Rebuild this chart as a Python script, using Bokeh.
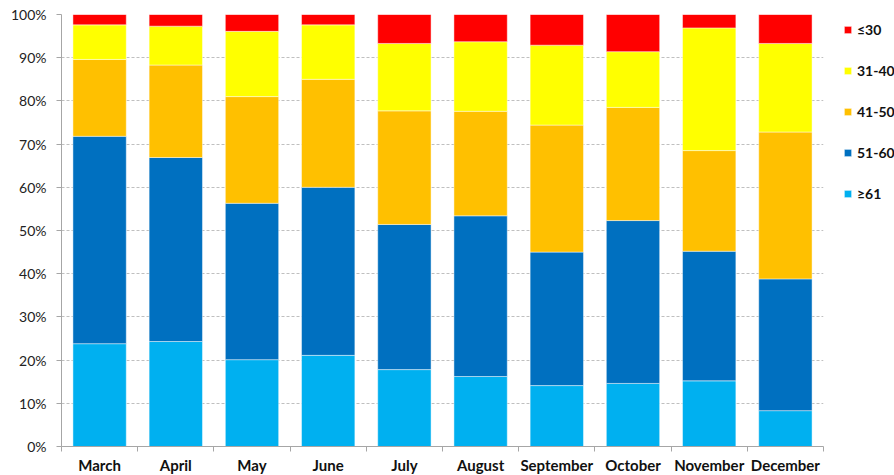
from bokeh.plotting import figure
from bokeh.models import (ColumnDataSource, Range1d, FixedTicker, PrintfTickFormatter,
                          Legend, LegendItem)
from bokeh.embed import file_html
from bokeh.resources import INLINE

months = ["March", "April", "May", "June", "July", "August",
          "September", "October", "November", "December"]
groups = ["≥61", "51-60", "41-50", "31-40", "≤30"]
colors = ["#00B0F0", "#0070C0", "#FFC000", "#FFFF00", "#FF0000"]

# share (%) of each group per month, stacked bottom to top
ge61 = [23.8, 24.3, 20.1, 21.1, 17.8, 16.2, 14.1, 14.6, 15.2, 8.3]
g51_60 = [48.0, 42.6, 36.2, 38.9, 33.6, 37.2, 30.9, 37.7, 30.0, 30.5]
g41_50 = [17.8, 21.4, 24.7, 25.0, 26.3, 24.2, 29.4, 26.2, 23.3, 34.0]
g31_40 = [8.0, 9.0, 15.1, 12.6, 15.6, 16.1, 18.5, 12.9, 28.4, 20.5]
le30 = [2.4, 2.7, 3.9, 2.4, 6.7, 6.3, 7.1, 8.6, 3.1, 6.7]

y_ticks = list(range(0, 101, 10))

keys = ["ge61", "g51_60", "g41_50", "g31_40", "le30"]
xpos = [i + 0.5 for i in range(len(months))]
source = ColumnDataSource(dict(x=xpos, ge61=ge61, g51_60=g51_60, g41_50=g41_50,
                               g31_40=g31_40, le30=le30))

FONT = "Lato"
AXIS_GREY = "#A6A6A6"

p = figure(frame_width=762, frame_height=432, output_backend="svg", toolbar_location=None,
           x_range=Range1d(0, len(months)), y_range=Range1d(0, 100),
           min_border_left=61, min_border_right=71, min_border_top=14,
           min_border_bottom=29)
p.outline_line_color = None
p.background_fill_color = "white"

renderers = p.vbar_stack(keys, x="x", width=0.7, source=source, color=colors,
                         line_color="white", line_alpha=0.45, line_width=1)

# horizontal dashed grid
p.xgrid.visible = False
p.ygrid.ticker = FixedTicker(ticks=y_ticks)
p.ygrid.grid_line_color = "#BFBFBF"
p.ygrid.grid_line_dash = "3 2"
p.ygrid.grid_line_width = 1

# y axis
p.yaxis.ticker = FixedTicker(ticks=y_ticks)
p.yaxis.formatter = PrintfTickFormatter(format="%d%%")
p.yaxis.axis_line_color = AXIS_GREY
p.yaxis.major_tick_line_color = AXIS_GREY
p.yaxis.major_tick_out = 5
p.yaxis.major_tick_in = 0
p.yaxis.minor_tick_line_color = None
p.yaxis.major_label_text_font = FONT
p.yaxis.major_label_text_font_size = "14px"
p.yaxis.major_label_text_color = "#222222"
p.yaxis.major_label_standoff = 10

# x axis: labels at bar centres, ticks at category boundaries
p.xaxis.ticker = FixedTicker(ticks=xpos, minor_ticks=list(range(len(months) + 1)))
p.xaxis.major_label_overrides = {x: m for x, m in zip(xpos, months)}
p.xaxis.axis_line_color = AXIS_GREY
p.xaxis.major_tick_line_color = None
p.xaxis.major_tick_out = 0
p.xaxis.major_tick_in = 0
p.xaxis.minor_tick_line_color = AXIS_GREY
p.xaxis.minor_tick_out = 5
p.xaxis.minor_tick_in = 0
p.xaxis.major_label_text_font = FONT
p.xaxis.major_label_text_font_style = "bold"
p.xaxis.major_label_text_font_size = "15px"
p.xaxis.major_label_text_color = "#111111"
p.xaxis.major_label_standoff = 4

items = [LegendItem(label=g, renderers=[r]) for g, r in zip(groups, renderers)][::-1]
legend = Legend(items=items, location=(20, 244), orientation="vertical",
                glyph_width=9, glyph_height=9, label_standoff=5, spacing=24,
                label_height=14, padding=0, margin=0, border_line_color=None,
                background_fill_alpha=0,
                label_text_font=FONT, label_text_font_style="bold",
                label_text_font_size="14px", label_text_color="#111111")
p.add_layout(legend, "right")

open("out.html", "w").write(file_html(p, INLINE))
